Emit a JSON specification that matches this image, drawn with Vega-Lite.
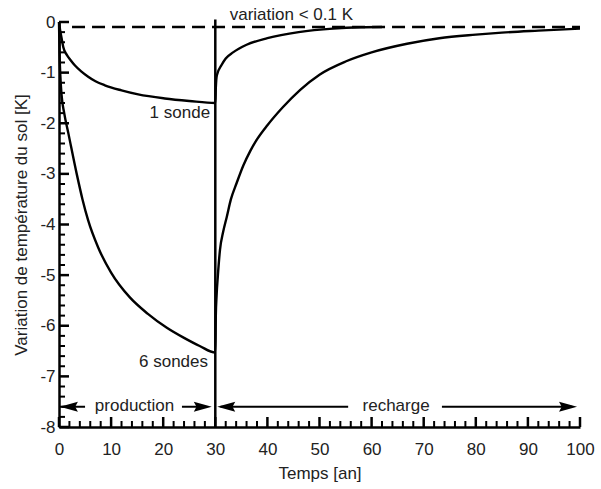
{
  "$schema": "https://vega.github.io/schema/vega-lite/v6.json",
  "width": 521,
  "height": 405,
  "autosize": {"type": "none"},
  "padding": {"left": 59, "top": 22, "right": 21, "bottom": 62},
  "background": "white",
  "config": {
    "view": {"stroke": null},
    "font": "Liberation Sans",
    "axis": {
      "domainColor": "black",
      "domainWidth": 2.5,
      "labelFontSize": 17,
      "labelColor": "#222",
      "titleFontSize": 17,
      "titleFontWeight": "normal",
      "titleColor": "#222",
      "grid": false,
      "ticks": false,
      "labelOverlap": false,
      "labelFlush": false
    }
  },
  "datasets": {
    "curves": [
      {"s": "1", "t": 0, "v": 0},
      {"s": "1", "t": 0.2, "v": -0.15},
      {"s": "1", "t": 0.5, "v": -0.32},
      {"s": "1", "t": 0.83, "v": -0.5},
      {"s": "1", "t": 1.5, "v": -0.65},
      {"s": "1", "t": 2.2, "v": -0.75},
      {"s": "1", "t": 3.07, "v": -0.86},
      {"s": "1", "t": 4.2, "v": -0.97},
      {"s": "1", "t": 5.6, "v": -1.08},
      {"s": "1", "t": 7, "v": -1.17},
      {"s": "1", "t": 8.8, "v": -1.25},
      {"s": "1", "t": 12, "v": -1.35},
      {"s": "1", "t": 15.2, "v": -1.43},
      {"s": "1", "t": 20.3, "v": -1.51},
      {"s": "1", "t": 25, "v": -1.56},
      {"s": "1", "t": 30, "v": -1.6},
      {"s": "1", "t": 30.1, "v": -1.3},
      {"s": "1", "t": 30.3, "v": -1.05},
      {"s": "1", "t": 31.2, "v": -0.85},
      {"s": "1", "t": 32, "v": -0.72},
      {"s": "1", "t": 33.4, "v": -0.6},
      {"s": "1", "t": 36, "v": -0.45},
      {"s": "1", "t": 40, "v": -0.32},
      {"s": "1", "t": 46, "v": -0.2},
      {"s": "1", "t": 52.6, "v": -0.13},
      {"s": "1", "t": 58, "v": -0.105},
      {"s": "1", "t": 62, "v": -0.1},
      {"s": "6", "t": 0, "v": 0},
      {"s": "6", "t": 0.1, "v": -0.6},
      {"s": "6", "t": 0.25, "v": -1.05},
      {"s": "6", "t": 0.5, "v": -1.45},
      {"s": "6", "t": 1, "v": -1.8},
      {"s": "6", "t": 1.8, "v": -2.2},
      {"s": "6", "t": 3.4, "v": -3.0},
      {"s": "6", "t": 4.5, "v": -3.5},
      {"s": "6", "t": 5.6, "v": -3.92},
      {"s": "6", "t": 7.5, "v": -4.45},
      {"s": "6", "t": 10, "v": -4.95},
      {"s": "6", "t": 13.6, "v": -5.44},
      {"s": "6", "t": 17, "v": -5.76},
      {"s": "6", "t": 20.7, "v": -6.04},
      {"s": "6", "t": 24, "v": -6.24},
      {"s": "6", "t": 27, "v": -6.4},
      {"s": "6", "t": 30, "v": -6.53},
      {"s": "6", "t": 30.1, "v": -5.8},
      {"s": "6", "t": 30.25, "v": -5.4},
      {"s": "6", "t": 30.5, "v": -5.0},
      {"s": "6", "t": 30.9, "v": -4.5},
      {"s": "6", "t": 31.5, "v": -4.15},
      {"s": "6", "t": 32.2, "v": -3.85},
      {"s": "6", "t": 33, "v": -3.5},
      {"s": "6", "t": 34.1, "v": -3.18},
      {"s": "6", "t": 35.4, "v": -2.83},
      {"s": "6", "t": 36.7, "v": -2.55},
      {"s": "6", "t": 38, "v": -2.32},
      {"s": "6", "t": 40, "v": -2.04},
      {"s": "6", "t": 43, "v": -1.68},
      {"s": "6", "t": 46.3, "v": -1.34},
      {"s": "6", "t": 50, "v": -1.04},
      {"s": "6", "t": 55, "v": -0.78},
      {"s": "6", "t": 60, "v": -0.6},
      {"s": "6", "t": 66.8, "v": -0.43},
      {"s": "6", "t": 73, "v": -0.32},
      {"s": "6", "t": 80, "v": -0.25},
      {"s": "6", "t": 85, "v": -0.21},
      {"s": "6", "t": 92, "v": -0.17},
      {"s": "6", "t": 100, "v": -0.13}
    ],
    "xmaj": [{"x": 0}, {"x": 10}, {"x": 20}, {"x": 30}, {"x": 40}, {"x": 50}, {"x": 60}, {"x": 70}, {"x": 80}, {"x": 90}, {"x": 100}],
    "xmin": [{"x": 2}, {"x": 4}, {"x": 6}, {"x": 8}, {"x": 12}, {"x": 14}, {"x": 16}, {"x": 18}, {"x": 22}, {"x": 24}, {"x": 26}, {"x": 28}, {"x": 32}, {"x": 34}, {"x": 36}, {"x": 38}, {"x": 42}, {"x": 44}, {"x": 46}, {"x": 48}, {"x": 52}, {"x": 54}, {"x": 56}, {"x": 58}, {"x": 62}, {"x": 64}, {"x": 66}, {"x": 68}, {"x": 72}, {"x": 74}, {"x": 76}, {"x": 78}, {"x": 82}, {"x": 84}, {"x": 86}, {"x": 88}, {"x": 92}, {"x": 94}, {"x": 96}, {"x": 98}],
    "ymaj": [{"y": -8}, {"y": -7}, {"y": -6}, {"y": -5}, {"y": -4}, {"y": -3}, {"y": -2}, {"y": -1}, {"y": 0}],
    "ymin": [{"y": -7.8}, {"y": -7.6}, {"y": -7.4}, {"y": -7.2}, {"y": -6.8}, {"y": -6.6}, {"y": -6.4}, {"y": -6.2}, {"y": -5.8}, {"y": -5.6}, {"y": -5.4}, {"y": -5.2}, {"y": -4.8}, {"y": -4.6}, {"y": -4.4}, {"y": -4.2}, {"y": -3.8}, {"y": -3.6}, {"y": -3.4}, {"y": -3.2}, {"y": -2.8}, {"y": -2.6}, {"y": -2.4}, {"y": -2.2}, {"y": -1.8}, {"y": -1.6}, {"y": -1.4}, {"y": -1.2}, {"y": -0.8}, {"y": -0.6}, {"y": -0.4}, {"y": -0.2}],
    "segs": [
      {"x": 0.5, "x2": 5, "y": -7.6},
      {"x": 23.6, "x2": 28, "y": -7.6},
      {"x": 31, "x2": 55.5, "y": -7.6},
      {"x": 73.5, "x2": 98.5, "y": -7.6}
    ],
    "heads": [
      {"x": 1.9, "y": -7.6, "dir": "left"},
      {"x": 27.6, "y": -7.6, "dir": "right"},
      {"x": 32.1, "y": -7.6, "dir": "left"},
      {"x": 97.7, "y": -7.6, "dir": "right"}
    ],
    "dashed": [{"x": 2.5, "x2": 100, "y": -0.1}],
    "vline": [{"x": 30, "y": 0.05, "y2": -8}],
    "ctext": [
      {"x": 44.6, "y": 0.13, "label": "variation < 0.1 K"},
      {"x": 14.5, "y": -7.58, "label": "production"},
      {"x": 64.7, "y": -7.58, "label": "recharge"}
    ],
    "rtext": [
      {"x": 29, "y": -1.8, "label": "1 sonde"},
      {"x": 28.6, "y": -6.72, "label": "6 sondes"}
    ]
  },
  "layer": [
    {
      "data": {"name": "curves"},
      "mark": {"type": "line", "stroke": "black", "strokeWidth": 2.4, "interpolate": "monotone"},
      "encoding": {
        "x": {
          "field": "t", "type": "quantitative",
          "scale": {"domain": [0, 100], "nice": false},
          "axis": {
            "title": "Temps [an]",
            "values": [0, 10, 20, 30, 40, 50, 60, 70, 80, 90, 100],
            "labelPadding": 14,
            "titlePadding": 8
          }
        },
        "y": {
          "field": "v", "type": "quantitative",
          "scale": {"domain": [-8, 0], "nice": false, "zero": false},
          "axis": {
            "title": "Variation de température du sol [K]",
            "values": [-8, -7, -6, -5, -4, -3, -2, -1, 0],
            "labelExpr": "'' + datum.value",
            "labelPadding": 4,
            "titlePadding": 9
          }
        },
        "detail": {"field": "s"}
      }
    },
    {
      "data": {"name": "xmaj"},
      "mark": {"type": "tick", "orient": "vertical", "color": "black", "size": 10, "thickness": 2.5, "yOffset": -5, "opacity": 1},
      "encoding": {
        "x": {"field": "x", "type": "quantitative"},
        "y": {"datum": -8, "type": "quantitative"}
      }
    },
    {
      "data": {"name": "xmin"},
      "mark": {"type": "tick", "orient": "vertical", "color": "black", "size": 6, "thickness": 2, "yOffset": -3, "opacity": 1},
      "encoding": {
        "x": {"field": "x", "type": "quantitative"},
        "y": {"datum": -8, "type": "quantitative"}
      }
    },
    {
      "data": {"name": "ymaj"},
      "mark": {"type": "tick", "orient": "horizontal", "color": "black", "size": 10, "thickness": 2.5, "xOffset": 5, "opacity": 1},
      "encoding": {
        "y": {"field": "y", "type": "quantitative"},
        "x": {"datum": 0, "type": "quantitative"}
      }
    },
    {
      "data": {"name": "ymin"},
      "mark": {"type": "tick", "orient": "horizontal", "color": "black", "size": 6, "thickness": 2, "xOffset": 3, "opacity": 1},
      "encoding": {
        "y": {"field": "y", "type": "quantitative"},
        "x": {"datum": 0, "type": "quantitative"}
      }
    },
    {
      "data": {"name": "dashed"},
      "mark": {"type": "rule", "stroke": "black", "strokeWidth": 2.5, "strokeDash": [13, 7]},
      "encoding": {
        "x": {"field": "x", "type": "quantitative"},
        "x2": {"field": "x2"},
        "y": {"field": "y", "type": "quantitative"}
      }
    },
    {
      "data": {"name": "vline"},
      "mark": {"type": "rule", "stroke": "black", "strokeWidth": 2.5},
      "encoding": {
        "x": {"field": "x", "type": "quantitative"},
        "y": {"field": "y", "type": "quantitative"},
        "y2": {"field": "y2"}
      }
    },
    {
      "data": {"name": "segs"},
      "mark": {"type": "rule", "stroke": "black", "strokeWidth": 2},
      "encoding": {
        "x": {"field": "x", "type": "quantitative"},
        "x2": {"field": "x2"},
        "y": {"field": "y", "type": "quantitative"}
      }
    },
    {
      "data": {"name": "heads"},
      "mark": {"type": "point", "filled": true, "fill": "black", "stroke": null, "opacity": 1, "size": 324},
      "encoding": {
        "x": {"field": "x", "type": "quantitative"},
        "y": {"field": "y", "type": "quantitative"},
        "shape": {
          "field": "dir", "type": "nominal", "legend": null,
          "scale": {"domain": ["left", "right"], "range": ["M-1,0L1,-0.55L0.7,0L1,0.55Z", "M1,0L-1,-0.55L-0.7,0L-1,0.55Z"]}
        }
      }
    },
    {
      "data": {"name": "ctext"},
      "mark": {"type": "text", "fontSize": 17, "fill": "#222", "align": "center", "baseline": "middle"},
      "encoding": {
        "x": {"field": "x", "type": "quantitative"},
        "y": {"field": "y", "type": "quantitative"},
        "text": {"field": "label"}
      }
    },
    {
      "data": {"name": "rtext"},
      "mark": {"type": "text", "fontSize": 17, "fill": "#222", "align": "right", "baseline": "middle"},
      "encoding": {
        "x": {"field": "x", "type": "quantitative"},
        "y": {"field": "y", "type": "quantitative"},
        "text": {"field": "label"}
      }
    }
  ]
}
